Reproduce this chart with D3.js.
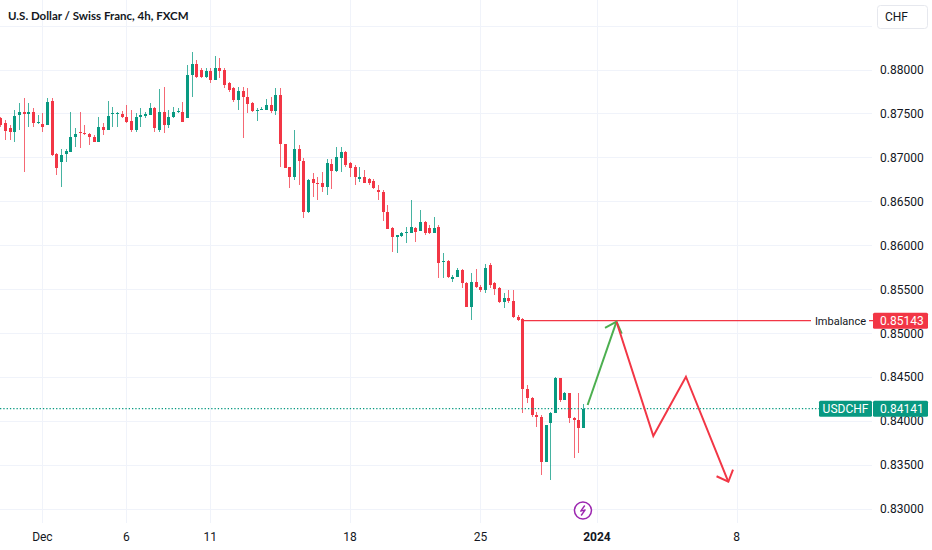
<!DOCTYPE html>
<html>
<head>
<meta charset="utf-8">
<script src="https://cdnjs.cloudflare.com/ajax/libs/d3/7.8.5/d3.min.js"></script>
<style>
    body { margin: 0; background: #ffffff; }
    svg { display: block; }
    .axis-label { font-family: Roboto, sans-serif; font-size: 12px; fill: #131722; }
    .title { font-family: Lato, sans-serif; font-size: 11.5px; font-weight: 700; fill: #131722; }
</style>
</head>
<body>
<div id="chart"></div>
<script>

/*
 * USDCHF 4h candles (oldest first)
 */
var opens = [
    .87444, .87388, .87331, .87293, .87482, .87520, .87490, .87516, .87388, .87380,
    .87369, .87645, .87035, .86952, .87035, .87065, .87236, .87285, .87274, .87266,
    .87236, .87179, .87350, .87312, .87501, .87497, .87497, .87463, .87414, .87312,
    .87463, .87475, .87482, .87566, .87312, .87520, .87369, .87463, .87520, .87520,
    .87444, .87937, .88059, .87994, .87918, .87982, .87880, .88013, .87994, .87843,
    .87786, .87653, .87755, .87691, .87615, .87528, .87539, .87539, .87596, .87528,
    .87710, .87149, .86895, .86781, .87096, .86963, .86383, .86750, .86712, .86705,
    .86667, .86921, .86849, .86990, .87065, .86932, .86887, .86750, .86774, .86755,
    .86735, .86629, .86610, .86383, .86193, .86098, .86106, .86136, .86136, .86200,
    .86167, .86269, .86193, .86136, .86212, .85810, .85825, .85613, .85643, .85719,
    .85567, .85302, .85587, .85529, .85491, .85776, .85567, .85511, .85359, .85397,
    .85370, .85188, .85158, .84361, .84259, .84069, .84050, .83539, .83975, .84088,
    .84487, .84240, .84316, .84031, .84012, .83918
];
var highs = [
    .87463, .87426, .87369, .87539, .87615, .87672, .87619, .87558, .87482, .87501,
    .87672, .87672, .87046, .87092, .87092, .87520, .87331, .87520, .87369, .87274,
    .87255, .87463, .87388, .87645, .87577, .87520, .87531, .87596, .87539, .87501,
    .87558, .87520, .87623, .87577, .87774, .87805, .87539, .87577, .87558, .87626,
    .88051, .88203, .88108, .88013, .88013, .88013, .88154, .88127, .88013, .87862,
    .87805, .87805, .87805, .87786, .87634, .87558, .87577, .87664, .87691, .87786,
    .87786, .87149, .86895, .87312, .87141, .86989, .86750, .86818, .86780, .86837,
    .86978, .86978, .87122, .87122, .87077, .86951, .86914, .86895, .86856, .86765,
    .86756, .86686, .86629, .86458, .86212, .86117, .86155, .86212, .86515, .86212,
    .86401, .86280, .86231, .86318, .86231, .85909, .85833, .85662, .85738, .85727,
    .85587, .85681, .85727, .85548, .85787, .85795, .85587, .85530, .85454, .85492,
    .85492, .85207, .85170, .84411, .84278, .84107, .84069, .83956, .84107, .84505,
    .84487, .84335, .84323, .84050, .84323, .84195
];
var lows = [
    .87350, .87198, .87198, .87179, .87312, .86838, .87350, .87350, .87377, .87293,
    .87369, .87020, .86800, .86667, .86952, .87060, .87122, .87103, .87255, .87141,
    .87175, .87179, .87255, .87312, .87350, .87350, .87444, .87388, .87293, .87293,
    .87350, .87444, .87482, .87293, .87293, .87274, .87331, .87444, .87501, .87407,
    .87444, .87691, .87899, .87899, .87907, .87843, .87880, .87899, .87786, .87748,
    .87634, .87539, .87217, .87501, .87520, .87414, .87539, .87539, .87501, .87482,
    .86895, .86876, .86656, .86743, .86686, .86307, .86370, .86553, .86515, .86610,
    .86572, .86636, .86837, .86837, .86895, .86780, .86686, .86724, .86705, .86686,
    .86636, .86515, .86280, .86182, .85927, .85916, .86098, .86022, .86136, .86041,
    .86167, .86117, .86129, .86136, .85624, .85624, .85624, .85587, .85643, .85511,
    .85302, .85150, .85511, .85473, .85454, .85511, .85435, .85340, .85283, .85340,
    .85170, .85143, .84088, .84202, .84050, .83937, .83387, .83539, .83330, .84088,
    .84221, .84240, .83975, .83577, .83634, .83918
];
var closes = [
    .87369, .87304, .87293, .87471, .87520, .87490, .87520, .87388, .87399, .87350,
    .87634, .87027, .86876, .87027, .87077, .87236, .87266, .87274, .87270, .87236,
    .87179, .87342, .87312, .87471, .87505, .87505, .87463, .87407, .87312, .87463,
    .87482, .87490, .87566, .87331, .87520, .87369, .87463, .87520, .87528, .87407,
    .87937, .88059, .87918, .87911, .87982, .87880, .88013, .87982, .87824, .87767,
    .87653, .87755, .87691, .87604, .87528, .87539, .87551, .87596, .87528, .87710,
    .87149, .86883, .86781, .87096, .86963, .86383, .86743, .86712, .86705, .86659,
    .86932, .86849, .87008, .87065, .86914, .86876, .86780, .86780, .86705, .86712,
    .86648, .86610, .86383, .86182, .86091, .86117, .86136, .86155, .86212, .86155,
    .86269, .86136, .86136, .86193, .85795, .85825, .85643, .85643, .85719, .85567,
    .85302, .85587, .85529, .85491, .85738, .85548, .85499, .85359, .85397, .85370,
    .85188, .85150, .84361, .84259, .84069, .84050, .83539, .83956, .84088, .84487,
    .84240, .84316, .84031, .84012, .83918, .84141
];

// time axis: label and the bar index where it sits
var timeLabels = ["Dec", "6", "11", "18", "25", "2024", "8"];
var timeIndex = [9, 27, 45, 75, 103, 128, 158];

// price axis
var priceTicks = [0.830, 0.835, 0.840, 0.845, 0.850, 0.855, 0.860, 0.865, 0.870, 0.875, 0.880, 0.885];

// drawing objects
var imbalancePrice = 0.85143;
var imbalanceStart = 112;
var lastPrice = 0.84141;
var pathIndex = [126, 132.2, 140.1, 147.1, 156.2];
var pathPrice = [0.84183, 0.85131, 0.83830, 0.84505, 0.83310];


/**
 * CandleVis draws the candles, the grid, both axes and the hand drawn lines
 * @param _parentElement -- D3 node to attach the svg to
 * @constructor
 */
CandleVis = function(_parentElement){
    this.parentElement = _parentElement;
    this.width = 932;
    this.height = 550;
    this.plotRight = 872;
    this.plotBottom = 523;
    this.up = "#089981";
    this.down = "#f23645";

    this.initVis();
}


CandleVis.prototype.initVis = function(){

    var that = this;

    this.svg = this.parentElement.append("svg")
        .attr("width", this.width)
        .attr("height", this.height);

    this.x = d3.scaleLinear()
        .domain([-0.1, 186.6])
        .range([0, 870]);

    this.y = d3.scaleLinear()
        .domain([0.83, 0.88])
        .range([509, 69.5]);

    this.wrangleData();
    this.drawGrid();
    this.updateVis();
    this.drawAxes();
    this.drawObjects();
}


CandleVis.prototype.wrangleData = function(){

    this.displayData = opens.map(function(o, i){
        return {i: i, o: o, h: highs[i], l: lows[i], c: closes[i]};
    });
}


CandleVis.prototype.drawGrid = function(){

    var that = this;
    var grid = this.svg.append("g").attr("shape-rendering", "crispEdges");

    grid.selectAll(".hgrid")
        .data(priceTicks)
        .enter().append("line")
        .attr("x1", 0)
        .attr("x2", this.plotRight)
        .attr("y1", function(d){ return Math.round(that.y(d)) + 0.5; })
        .attr("y2", function(d){ return Math.round(that.y(d)) + 0.5; })
        .attr("stroke", "#f0f3fa");

    grid.selectAll(".vgrid")
        .data(timeIndex)
        .enter().append("line")
        .attr("x1", function(d){ return Math.round(that.x(d)) + 0.5; })
        .attr("x2", function(d){ return Math.round(that.x(d)) + 0.5; })
        .attr("y1", 0)
        .attr("y2", this.plotBottom)
        .attr("stroke", "#f0f3fa");
}


/**
 * the candles
 */
CandleVis.prototype.updateVis = function(){

    var that = this;

    var bars = this.svg.append("g")
        .attr("shape-rendering", "crispEdges")
        .selectAll(".bar")
        .data(this.displayData)
        .enter().append("g");

    bars.append("line")
        .attr("x1", function(d){ return Math.round(that.x(d.i)) + 0.5; })
        .attr("x2", function(d){ return Math.round(that.x(d.i)) + 0.5; })
        .attr("y1", function(d){ return that.y(d.h); })
        .attr("y2", function(d){ return that.y(d.l); })
        .attr("stroke", function(d){ return d.c >= d.o ? that.up : that.down; })
        .attr("stroke-opacity", 0.75);

    bars.append("rect")
        .attr("x", function(d){ return Math.round(that.x(d.i)) - 1; })
        .attr("width", 3)
        .attr("y", function(d){ return that.y(Math.max(d.o, d.c)); })
        .attr("height", function(d){ return Math.max(1, Math.abs(that.y(d.o) - that.y(d.c))); })
        .attr("fill", function(d){ return d.c >= d.o ? that.up : that.down; });
}


CandleVis.prototype.drawAxes = function(){

    var that = this;

    // price labels, the top one sits under the currency button
    this.svg.selectAll(".plabel")
        .data(priceTicks.filter(function(d){ return d < 0.8849; }))
        .enter().append("text")
        .attr("class", "axis-label")
        .attr("x", 880)
        .attr("y", function(d){ return that.y(d); })
        .attr("dy", "0.36em")
        .text(function(d){ return d3.format(".5f")(d); });

    this.svg.selectAll(".tlabel")
        .data(timeLabels)
        .enter().append("text")
        .attr("class", "axis-label")
        .attr("x", function(d, i){ return that.x(timeIndex[i]); })
        .attr("y", 541)
        .attr("text-anchor", "middle")
        .style("font-weight", function(d){ return d === "2024" ? 700 : 400; })
        .text(function(d){ return d; });

    // title
    this.svg.append("text")
        .attr("class", "title")
        .attr("x", 8)
        .attr("y", 20)
        .text("U.S. Dollar / Swiss Franc, 4h, FXCM");

    // currency button
    this.svg.append("rect")
        .attr("x", 877.5)
        .attr("y", 5.5)
        .attr("width", 50)
        .attr("height", 23)
        .attr("rx", 3)
        .attr("fill", "#ffffff")
        .attr("stroke", "#e6e8ee");

    this.svg.append("text")
        .attr("class", "axis-label")
        .attr("x", 885)
        .attr("y", 17)
        .attr("dy", "0.36em")
        .text("CHF");

    // events marker
    var ev = this.svg.append("g")
        .attr("transform", "translate(" + this.x(125) + ",510.5)");
    ev.append("circle")
        .attr("r", 8.5)
        .attr("fill", "#ffffff")
        .attr("stroke", "#9c27b0")
        .attr("stroke-width", 1.5);
    ev.append("path")
        .attr("d", "M1.8,-5 L-2.2,0.6 L2.2,-0.6 L-1.8,5")
        .attr("fill", "none")
        .attr("stroke", "#9c27b0")
        .attr("stroke-width", 1.4)
        .attr("stroke-linejoin", "round");
}


CandleVis.prototype.drawObjects = function(){

    var that = this;
    var yImb = this.y(imbalancePrice);
    var yLast = this.y(lastPrice);

    // imbalance level
    this.svg.append("line")
        .attr("x1", this.x(imbalanceStart))
        .attr("x2", 811)
        .attr("y1", yImb).attr("y2", yImb)
        .attr("stroke", this.down)
        .attr("stroke-width", 1.3);
    this.svg.append("line")
        .attr("x1", 869).attr("x2", 873)
        .attr("y1", yImb).attr("y2", yImb)
        .attr("stroke", this.down)
        .attr("stroke-width", 1.3);
    this.svg.append("text")
        .attr("class", "axis-label")
        .attr("x", 866)
        .attr("y", yImb)
        .attr("dy", "0.36em")
        .attr("text-anchor", "end")
        .style("font-size", "11px")
        .text("Imbalance");

    // last price line
    this.svg.append("line")
        .attr("x1", 0).attr("x2", 819)
        .attr("y1", yLast).attr("y2", yLast)
        .attr("stroke", this.up)
        .attr("stroke-width", 1.3)
        .attr("stroke-dasharray", "1.3,2");

    // price tags
    this.tag(873, yImb, 55, this.down, d3.format(".5f")(imbalancePrice), 880, "start");
    this.tag(819, yLast, 53, this.up, "USDCHF", 845.5, "middle");
    this.tag(873, yLast, 55, this.up, d3.format(".5f")(lastPrice), 880, "start");

    // projected path: up in green, then down in red
    var pts = pathIndex.map(function(d, i){ return [that.x(d), that.y(pathPrice[i])]; });
    var line = d3.line();

    this.svg.append("path")
        .attr("d", line(pts.slice(0, 2)))
        .attr("fill", "none")
        .attr("stroke", "#4caf50")
        .attr("stroke-width", 2);
    this.arrowHead(pts[0], pts[1], "#4caf50");

    this.svg.append("path")
        .attr("d", line(pts.slice(1)))
        .attr("fill", "none")
        .attr("stroke", "#f23645")
        .attr("stroke-width", 2)
        .attr("stroke-linejoin", "miter");
    this.arrowHead(pts[3], pts[4], "#f23645");
}


/*
*
* ==================================
* From here on only HELPER functions
* ==================================
*
* */

CandleVis.prototype.tag = function(x, yc, w, color, label, tx, anchor){

    this.svg.append("rect")
        .attr("x", x)
        .attr("y", yc - 8)
        .attr("width", w)
        .attr("height", 16)
        .attr("rx", 1.5)
        .attr("fill", color);

    this.svg.append("text")
        .attr("class", "axis-label")
        .attr("x", tx)
        .attr("y", yc)
        .attr("dy", "0.36em")
        .attr("text-anchor", anchor)
        .style("fill", "#ffffff")
        .text(label);
}


CandleVis.prototype.arrowHead = function(from, to, color){

    var ang = Math.atan2(from[1] - to[1], from[0] - to[0]);
    var len = 13, spread = 43 * Math.PI / 180;
    var a = [to[0] + len * Math.cos(ang - spread), to[1] + len * Math.sin(ang - spread)];
    var b = [to[0] + len * Math.cos(ang + spread), to[1] + len * Math.sin(ang + spread)];

    this.svg.append("path")
        .attr("d", d3.line()([a, to, b]))
        .attr("fill", "none")
        .attr("stroke", color)
        .attr("stroke-width", 2);
}


var chart = new CandleVis(d3.select("#chart"));

</script>
</body>
</html>
